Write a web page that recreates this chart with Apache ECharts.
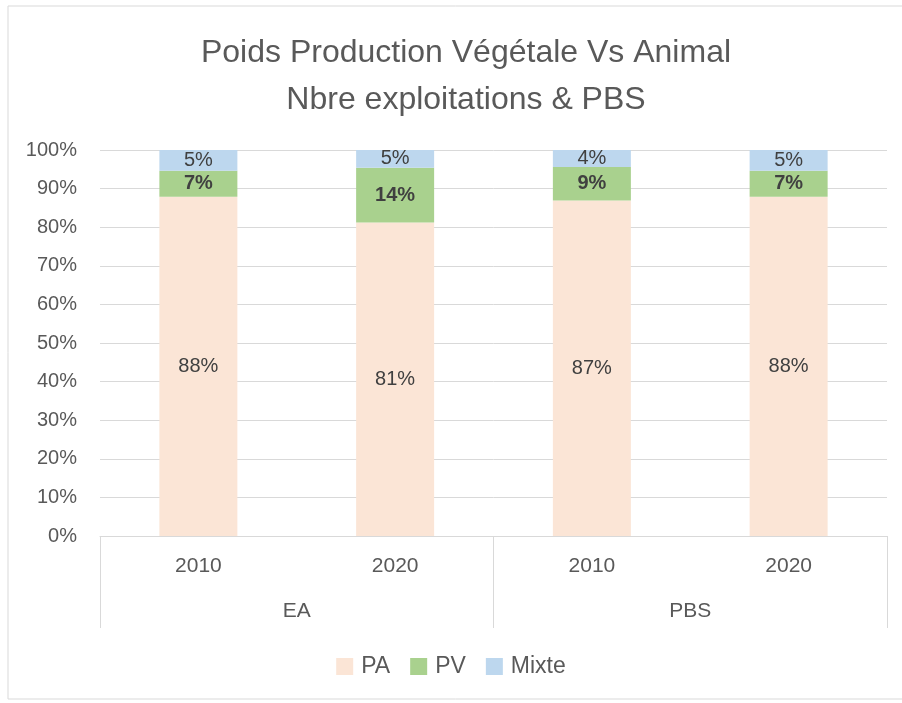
<!DOCTYPE html>
<html>
<head>
<meta charset="utf-8">
<script src="https://cdn.jsdelivr.net/npm/echarts@6/dist/echarts.min.js"></script>
<style>html,body{margin:0;padding:0;background:#fff}#c{width:902px;height:703px}</style>
</head>
<body>
<div id="c"></div>
<script>
const years = ['2010', '2020', '2010', '2020'];
const groups = ['EA', 'PBS'];
const pa = [87.9, 81.2, 86.9, 87.9];
const pv = [6.7, 14.2, 8.7, 6.7];
const mixte = [5.4, 4.6, 4.4, 5.4];
const yTicks = [0, 10, 20, 30, 40, 50, 60, 70, 80, 90, 100];

const FONT = 'Liberation Sans, Arial, sans-serif';
const fmt = p => Math.round(p.value) + '%';

const chart = echarts.init(document.getElementById('c'));
chart.setOption({
  animation: false,
  backgroundColor: '#fff',
  textStyle: { fontFamily: FONT },
  title: {
    text: 'Poids Production Végétale Vs Animal\nNbre exploitations & PBS',
    left: 461, top: 25, textAlign: 'center',
    textStyle: { fontSize: 32, fontWeight: 'normal', color: '#595959', lineHeight: 47, fontFamily: FONT }
  },
  graphic: [{
    type: 'rect', shape: { x: 8, y: 6, width: 1000, height: 693 },
    style: { fill: 'none', stroke: '#d9d9d9', lineWidth: 1 }, silent: true, z: -10
  }],
  legend: {
    data: ['PA', 'PV', 'Mixte'], bottom: 20, left: 'center', itemWidth: 17, itemHeight: 17, itemGap: 20,
    icon: 'rect',
    textStyle: { fontSize: 23, color: '#595959', fontFamily: FONT, padding: [0, 0, 0, 3] }
  },
  grid: { left: 100, right: 15, top: 150, bottom: 167 },
  xAxis: [{
    type: 'category', data: years, position: 'bottom',
    axisLine: { lineStyle: { color: '#d9d9d9', width: 1 } },
    axisTick: { show: false },
    axisLabel: { margin: 20, fontSize: 21, color: '#595959', fontFamily: FONT }
  }, {
    type: 'category', data: groups, position: 'bottom',
    axisLine: { show: false },
    axisTick: { show: true, length: 92, lineStyle: { color: '#d9d9d9' } },
    axisLabel: { margin: 65, fontSize: 21, color: '#595959', fontFamily: FONT }
  }],
  yAxis: {
    type: 'value', min: 0, max: 100, interval: 10,
    axisLine: { show: false }, axisTick: { show: false },
    splitLine: { lineStyle: { color: '#d9d9d9', width: 1 } },
    axisLabel: { formatter: v => yTicks.includes(v) ? v + '%' : '', fontSize: 20, color: '#595959', margin: 23, fontFamily: FONT }
  },
  series: [
    { name: 'PA', type: 'bar', stack: 's', data: pa, barWidth: 78, itemStyle: { color: '#FBE5D6' },
      label: { show: true, position: 'inside', formatter: fmt, fontSize: 20, color: '#404040', fontFamily: FONT } },
    { name: 'PV', type: 'bar', stack: 's', data: pv, barWidth: 78, itemStyle: { color: '#A9D18E' },
      label: { show: true, position: 'inside', formatter: fmt, fontSize: 20, fontWeight: 'bold', color: '#404040', fontFamily: FONT } },
    { name: 'Mixte', type: 'bar', stack: 's', data: mixte, barWidth: 78, itemStyle: { color: '#BDD7EE' },
      label: { show: true, position: 'inside', formatter: fmt, fontSize: 20, color: '#404040', fontFamily: FONT } }
  ]
});
</script>
</body>
</html>
